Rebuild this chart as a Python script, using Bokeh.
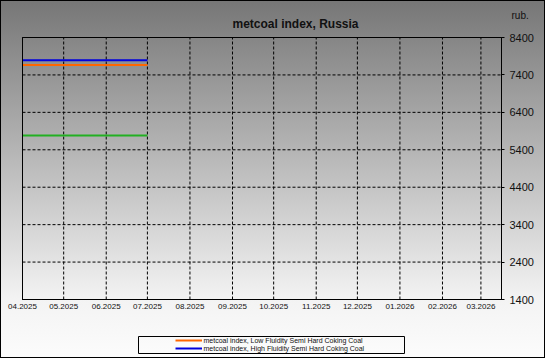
from datetime import datetime
from bokeh.plotting import figure
from bokeh.models import (Range1d, FixedTicker, MonthsTicker, DatetimeTickFormatter,
                          Label, Legend, LegendItem, BoxAnnotation, ColumnDataSource,
                          DatetimeAxis, LinearAxis)
from bokeh.embed import file_html
from bokeh.resources import INLINE

# ---- data ----
dates = ["2025-04-01", "2025-05-01", "2025-06-01", "2025-07-01"]
low_fluidity = [7665, 7665, 7665, 7665]
high_fluidity = [7790, 7790, 7790, 7790]
other_series = [5780, 5780, 5780, 5780]
y_ticks = [1400, 2400, 3400, 4400, 5400, 6400, 7400, 8400]
month_ticks = ["2025-04-01", "2025-05-01", "2025-06-01", "2025-07-01", "2025-08-01",
               "2025-09-01", "2025-10-01", "2025-11-01", "2025-12-01", "2026-01-01",
               "2026-02-01", "2026-03-01"]
x_start, x_end = "2025-04-01", "2026-03-16"
series_names = ["metcoal index, Low Fluidity Semi Hard Coking Coal",
                "metcoal index, High Fluidity Semi Hard Coking Coal"]
title_text = "metcoal index, Russia"
unit_text = "rub."

# ---- layout constants (pixels) ----
W, H = 545, 358
PL, PR, PT, PB = 22, 501, 37, 299   # plot-area box on the canvas
FONT = "Liberation Sans"


def ms(s):
    return (datetime.strptime(s, "%Y-%m-%d") - datetime(1970, 1, 1)).total_seconds() * 1000.0


x0, x1 = ms(x_start), ms(x_end)
y0, y1 = min(y_ticks), max(y_ticks)
xpp = (x1 - x0) / (PR - PL)
ypp = (y1 - y0) / (PB - PT)

src = ColumnDataSource(dict(x=[ms(d) for d in dates], low=low_fluidity,
                            high=high_fluidity, other=other_series))

p = figure(width=W, height=H, output_backend="svg", toolbar_location=None,
           x_axis_location=None, y_axis_location=None,
           x_range=Range1d(x0 - PL * xpp, x1 + (W - PR) * xpp),
           y_range=Range1d(y0 - (H - PB) * ypp, y1 + PT * ypp),
           min_border=0)
for g in p.grid:
    g.visible = False

p.background_fill_alpha = 0
p.border_fill_alpha = 0
p.outline_line_color = None
p.styles = {"background-image":
            "linear-gradient(to bottom, #767676 0%, #f3f3f3 83.5%, #fcfcfc 100%)",
            "box-shadow": "inset 0 0 0 1px #000000"}

# grid lines (dashed) inside the plot area
mt = [ms(d) for d in month_ticks]
p.segment(x0=mt, x1=mt, y0=[y0] * len(mt), y1=[y1] * len(mt),
          line_color="black", line_dash="3 2", line_width=1)
p.segment(x0=[x0] * len(y_ticks), x1=[x1] * len(y_ticks), y0=y_ticks, y1=y_ticks,
          line_color="black", line_dash="3 2", line_width=1)

# plot-area border
p.add_layout(BoxAnnotation(left=x0, right=x1, bottom=y0, top=y1, fill_alpha=0,
                           line_color="black", line_width=1, line_alpha=1))

# axes drawn at fixed positions
xa = DatetimeAxis(fixed_location=y0, bounds=(x0, x1))
xa.ticker = MonthsTicker(months=list(range(1, 13)))
xa.formatter = DatetimeTickFormatter(months="%m.%Y", days="%m.%Y")
xa.major_tick_out = 0
xa.major_tick_in = 0
xa.minor_tick_out = 0
xa.minor_tick_in = 0
xa.axis_line_color = "black"
xa.major_label_text_font = FONT
xa.major_label_text_font_size = "8px"
xa.major_label_text_color = "#111111"
xa.major_label_standoff = 4
p.add_layout(xa, "below")

ya = LinearAxis(fixed_location=x1, bounds=(y0, y1))
ya.ticker = FixedTicker(ticks=y_ticks)
ya.major_tick_out = 3
ya.major_tick_in = 0
ya.minor_tick_out = 0
ya.minor_tick_in = 0
ya.axis_line_color = "black"
ya.major_tick_line_color = "black"
ya.major_label_text_font = FONT
ya.major_label_text_font_size = "11px"
ya.major_label_text_color = "#111111"
ya.major_label_standoff = 5
p.add_layout(ya, "right")

# series
r_other = p.line("x", "other", source=src, line_color="#22b022", line_width=2)
r_low = p.line("x", "low", source=src, line_color="#ff6600", line_width=2)
r_high = p.line("x", "high", source=src, line_color="#0000dd", line_width=2)

# title and unit (screen units: from the canvas bottom-left)
p.add_layout(Label(x=295, y=H - 23, x_units="screen", y_units="screen", text=title_text,
                   text_font=FONT, text_font_size="12px", text_font_style="bold",
                   text_color="#111111", text_align="center", text_baseline="middle"))
p.add_layout(Label(x=511, y=H - 15, x_units="screen", y_units="screen", text=unit_text,
                   text_font=FONT, text_font_size="10px",
                   text_color="#111111", text_align="left", text_baseline="middle"))

# legend
legend = Legend(items=[LegendItem(label=series_names[0], renderers=[r_low]),
                       LegendItem(label=series_names[1], renderers=[r_high])],
                location=(173.5, H - 353), orientation="vertical",
                label_text_font=FONT, label_text_font_size="7px", label_text_color="#111111",
                label_height=8, glyph_height=8, glyph_width=27, label_standoff=2,
                spacing=0, padding=1, margin=0,
                background_fill_alpha=0, border_line_alpha=0)
p.add_layout(legend, "center")
p.add_layout(BoxAnnotation(left=138, right=404, top=H - 336, bottom=H - 353,
                           left_units="screen", right_units="screen",
                           top_units="screen", bottom_units="screen",
                           fill_alpha=0, line_color="black", line_width=1, line_alpha=1))

open("out.html", "w").write(file_html(p, INLINE))
